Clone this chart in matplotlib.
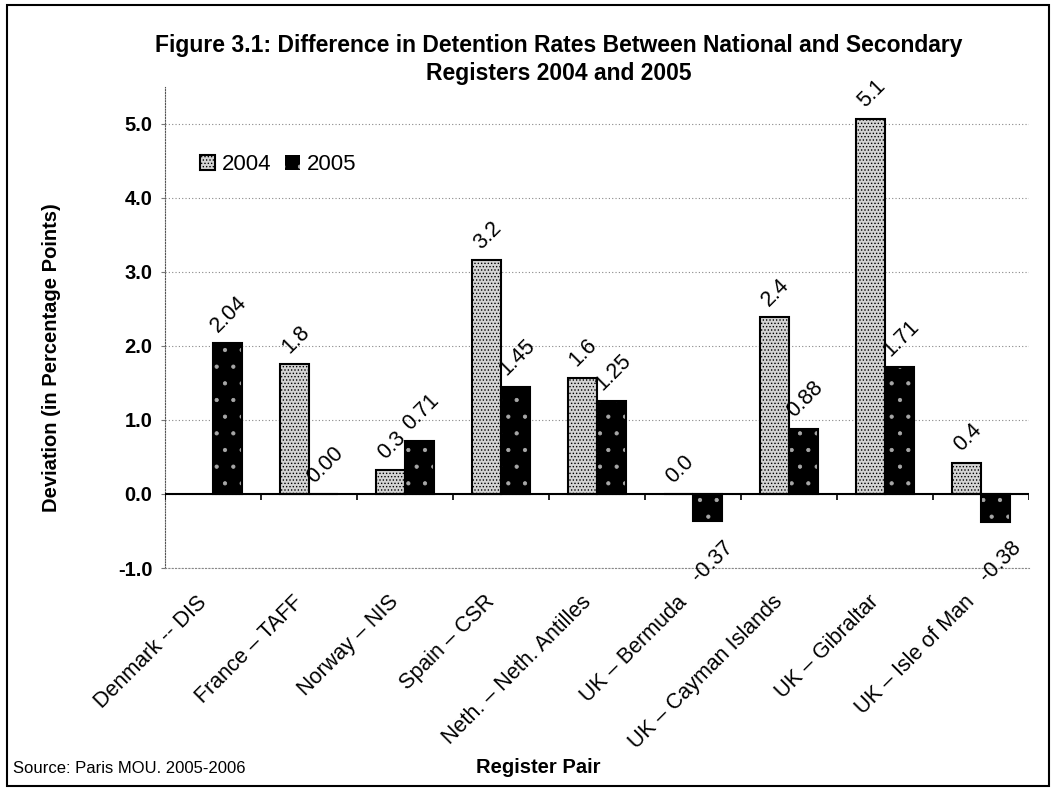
import matplotlib
matplotlib.use("Agg")
import matplotlib.pyplot as plt
import numpy as np
from matplotlib.patches import Rectangle
from matplotlib.transforms import ScaledTranslation

plt.rcParams['font.family'] = ['Liberation Sans', 'DejaVu Sans']
plt.rcParams['hatch.linewidth'] = 0.6

# data
pairs = ["Denmark -- DIS", "France \u2013 TAFF", "Norway \u2013 NIS", "Spain \u2013 CSR",
         "Neth. \u2013 Neth. Antilles", "UK \u2013 Bermuda", "UK \u2013 Cayman Islands",
         "UK \u2013 Gibraltar", "UK \u2013 Isle of Man"]
rates_2004 = [np.nan, 1.75, 0.32, 3.16, 1.57, 0.0, 2.39, 5.07, 0.42]
rates_2005 = [2.04, 0.00, 0.71, 1.45, 1.25, -0.37, 0.88, 1.71, -0.38]
series = ["2004", "2005"]
yticks = [-1.0, 0.0, 1.0, 2.0, 3.0, 4.0, 5.0]

fig = plt.figure(figsize=(10.55, 7.9), dpi=100)
ax = fig.add_axes([165 / 1055, 1 - 568 / 790, (1029 - 165) / 1055, (568 - 87) / 790])

x = np.arange(len(pairs))
w = 0.3
off = 0.155

b4 = ax.bar(x - off, rates_2004, w, facecolor="#d4d4d4", edgecolor="black",
            hatch=".....", linewidth=1.5, label=series[0], zorder=3)
# black bars with sparse light dots, outline drawn on top
ax.bar(x + off, rates_2005, w, color="black", edgecolor="#a8a8a8", hatch=".",
       linewidth=0, zorder=3)
ax.bar(x + off, rates_2005, w, fill=False, edgecolor="black", linewidth=1.5,
       zorder=3)
h5 = Rectangle((0, 0), 1, 1, facecolor="black", edgecolor="#a8a8a8", hatch=".",
               linewidth=0)

# value labels
for xs, vals, fmt in [(x - off, rates_2004, "{:.1f}"), (x + off, rates_2005, "{:.2f}")]:
    for xi, v in zip(xs, vals):
        if np.isnan(v):
            continue
        if v >= 0:
            ax.annotate(fmt.format(v), xy=(xi, v), xytext=(1, 5),
                        textcoords="offset points", rotation=45,
                        ha="center", va="bottom", fontsize=15.5, zorder=5)
        else:
            ax.annotate(fmt.format(v), xy=(xi, v), xytext=(3, -11),
                        textcoords="offset points", rotation=45,
                        ha="center", va="top", fontsize=15.5, zorder=5)

ax.set_xlim(-0.5, len(pairs) - 0.5)
ax.set_ylim(-1.0, 5.5)
ax.set_yticks(yticks)
ax.set_yticklabels(["{:.1f}".format(t) for t in yticks], fontsize=14.5,
                   fontweight="bold")
ax.tick_params(axis="y", length=3, color="#777777", pad=6)
ax.yaxis.grid(True, linestyle=(0, (1, 2)), color="#888888", linewidth=0.8)
ax.set_axisbelow(True)

ax.set_xticks(x)
ax.set_xticklabels(pairs, rotation=45, ha="right", rotation_mode="anchor",
                   fontsize=15.5)
ax.tick_params(axis="x", length=0, pad=17)
shift = ScaledTranslation(-12 / 72, 0, fig.dpi_scale_trans)
for lab in ax.get_xticklabels():
    lab.set_transform(lab.get_transform() + shift)

# zero axis with category separators
ax.axhline(0, color="black", linewidth=1.5, zorder=4)
ax.vlines(np.arange(len(pairs) + 1) - 0.5, -0.08, 0, color="black",
          linewidth=1.2, zorder=4)

for s in ["top", "right"]:
    ax.spines[s].set_visible(False)
ax.spines["left"].set_linestyle((0, (1, 1.5)))
ax.spines["left"].set_color("#555555")
ax.spines["bottom"].set_linestyle((0, (1, 2)))
ax.spines["bottom"].set_color("#888888")
ax.spines["bottom"].set_linewidth(0.8)

ax.legend([b4, h5], series, loc="center left", bbox_to_anchor=(0.03, 0.838),
          ncol=2, frameon=False, fontsize=16, handlelength=0.7,
          handleheight=0.7, handletextpad=0.3, columnspacing=0.6,
          borderaxespad=0)

fig.text(0.53, 1 - 52 / 790,
         "Figure 3.1: Difference in Detention Rates Between National and Secondary",
         ha="center", va="baseline", fontsize=16.5, fontweight="bold")
fig.text(0.53, 1 - 80 / 790, "Registers 2004 and 2005",
         ha="center", va="baseline", fontsize=16.5, fontweight="bold")
fig.text(52 / 1055, 1 - 358 / 790, "Deviation (in Percentage Points)",
         rotation=90, ha="center", va="center", fontsize=14.5, fontweight="bold")
fig.text(538 / 1055, 1 - 773 / 790, "Register Pair", ha="center", va="baseline",
         fontsize=14.5, fontweight="bold")
fig.text(13 / 1055, 1 - 773 / 790, "Source: Paris MOU. 2005-2006", ha="left",
         va="baseline", fontsize=12)

fig.patches.append(Rectangle((7 / 1055, 4 / 790), 1042 / 1055, 781 / 790,
                             transform=fig.transFigure, fill=False,
                             edgecolor="black", linewidth=1.5))

fig.savefig("out.png", dpi=100)
